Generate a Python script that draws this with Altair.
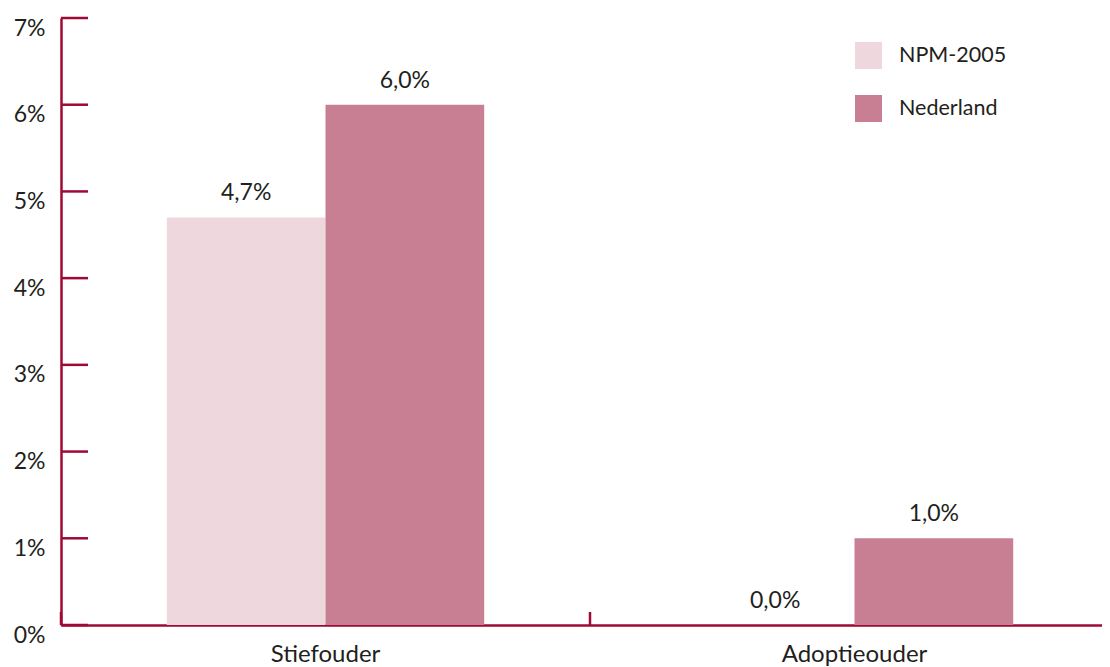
import altair as alt
import pandas as pd

categories = ["Stiefouder", "Adoptieouder"]
series_names = ["NPM-2005", "Nederland"]
npm_2005 = [4.7, 0.0]
nederland = [6.0, 1.0]
y_ticks = [0, 1, 2, 3, 4, 5, 6, 7]

rows = []
for i, c in enumerate(categories):
    rows.append({"cat": c, "series": series_names[0], "value": npm_2005[i]})
    rows.append({"cat": c, "series": series_names[1], "value": nederland[i]})
df = pd.DataFrame(rows)
ticks_df = pd.DataFrame({"t": y_ticks})
# category boundaries: index 0..n (only the inner one is visible as a separate tick)
boundary_df = pd.DataFrame({"b": list(range(len(categories) + 1))})

AXIS_RED = "#9E0A36"
FONT = "Lato"
TXT = "#231F20"

W, H = 1041, 607
X_EXTENT = 1058  # the axis runs on past the right edge of the picture

xscale = alt.Scale(domain=categories, range=[0, X_EXTENT], paddingInner=0.4, paddingOuter=0.2)
yscale = alt.Scale(domain=[0, 7], nice=False)

x_enc = alt.X("cat:N", scale=xscale, sort=categories,
              axis=alt.Axis(title=None, ticks=False, domainColor=AXIS_RED, domainWidth=2.5,
                            labelFont=FONT, labelFontSize=24, labelColor=TXT, labelPadding=17,
                            labelAngle=0, labelBaseline="top"))

bars = alt.Chart(df).mark_bar().encode(
    x=x_enc,
    xOffset=alt.XOffset("series:N", sort=series_names, scale=alt.Scale(paddingInner=0, paddingOuter=0)),
    y=alt.Y("value:Q", scale=yscale,
            axis=alt.Axis(title=None, values=y_ticks, ticks=False, grid=False,
                          domainColor=AXIS_RED, domainWidth=2.5,
                          labelExpr="datum.value + '%'", labelFont=FONT, labelFontSize=23,
                          labelColor=TXT, labelPadding=16, labelBaseline="top", labelOffset=-1)),
    color=alt.Color("series:N", sort=series_names,
                    scale=alt.Scale(domain=series_names, range=["#EFD7DE", "#C97F93"]),
                    legend=alt.Legend(title=None, orient="none", legendX=794, legendY=24,
                                      symbolType="square", symbolSize=729, symbolStrokeWidth=0,
                                      labelFont=FONT, labelFontSize=21.5, labelColor=TXT,
                                      labelOffset=17, rowPadding=26, padding=0)),
)

labels = alt.Chart(df).mark_text(font=FONT, fontSize=23, color=TXT, baseline="alphabetic", dy=-17).encode(
    x=alt.X("cat:N", scale=xscale, sort=categories),
    xOffset=alt.XOffset("series:N", sort=series_names),
    y=alt.Y("value:Q", scale=yscale),
    text=alt.Text("label:N"),
).transform_calculate(
    label="replace(format(datum.value, '.1f'), '.', ',') + '%'"
)

yticks = alt.Chart(ticks_df).mark_rule(color=AXIS_RED, strokeWidth=2.5).encode(
    y=alt.Y("t:Q", scale=yscale),
    x=alt.value(0),
    x2=alt.value(27),
)

main = alt.layer(bars, labels, yticks)

boundary = alt.Chart(boundary_df).mark_rule(color=AXIS_RED, strokeWidth=2.5).encode(
    x=alt.X("b:Q", scale=alt.Scale(domain=[0, len(categories)], range=[0, X_EXTENT], nice=False), axis=None),
    y=alt.value(H - 13),
    y2=alt.value(H),
)

chart = alt.layer(main, boundary).resolve_scale(x="independent").properties(
    width=W, height=H,
    autosize=alt.AutoSizeParams(type="none"),
    padding={"left": 53, "top": 10, "right": 0, "bottom": 42},
).configure_view(stroke=None)

chart.save("out.html", embed_options={"renderer": "svg", "actions": False})
